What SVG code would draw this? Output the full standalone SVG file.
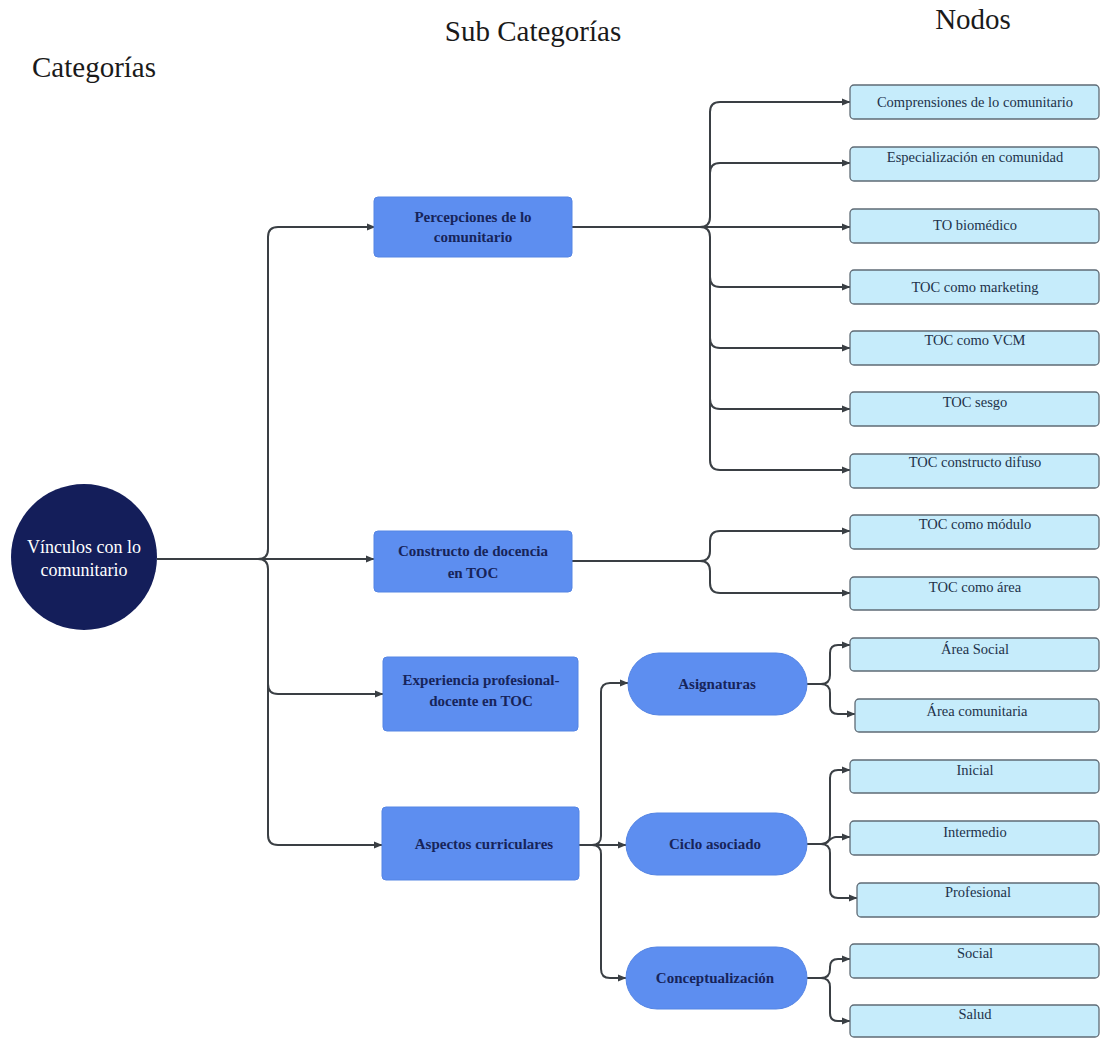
<svg xmlns="http://www.w3.org/2000/svg" width="1101" height="1038" viewBox="0 0 1101 1038">
  <defs>
    <marker id="arr" markerWidth="9" markerHeight="8" refX="8" refY="4" orient="auto" markerUnits="userSpaceOnUse">
      <path d="M0,0.5 L8.5,4 L0,7.5 z" fill="#3a3f44"/>
    </marker>
    <style>
      text { font-family: "Liberation Serif", "Times New Roman", "DejaVu Serif", serif; text-anchor: middle; }
      .hdr { font-size: 29px; fill: #1a1a1a; }
      .root { fill: #141e5a; }
      .root-t { font-size: 18px; fill: #ffffff; }
      .sub { fill: #5d8ef0; stroke: #5585e4; stroke-width: 1; }
      .sub-t { font-size: 15px; font-weight: bold; fill: #17245a; }
      .leaf { fill: #c6ecfb; stroke: #5f6b75; stroke-width: 1.3; }
      .leaf-t { font-size: 14.5px; fill: #22324a; }
      .conn path { fill: none; stroke: #3a3f44; stroke-width: 2; }
      .conn path.a { marker-end: url(#arr); }
    </style>
  </defs>

  <rect width="1101" height="1038" fill="#ffffff"/>

  <!-- column headings -->
  <text class="hdr" x="94" y="77">Categorías</text>
  <text class="hdr" x="533" y="41">Sub Categorías</text>
  <text class="hdr" x="973" y="29">Nodos</text>

  <!-- connectors -->
  <g id="connectors" class="conn">
    <!-- root to sub categories -->
    <path class="a" d="M157,559 H374"/>
    <path class="a" d="M258,559 Q268,559 268,549 V237 Q268,227 278,227 H375"/>
    <path class="a" d="M258,559 Q268,559 268,569 V835 Q268,845 278,845 H382"/>
    <path class="a" d="M268,684 Q268,694 278,694 H383"/>

    <!-- Percepciones de lo comunitario -->
    <path class="a" d="M572,227 H850"/>
    <path class="a" d="M700,227 Q710,227 710,217 V112 Q710,102 720,102 H850"/>
    <path class="a" d="M710,173 Q710,163 720,163 H850"/>
    <path class="a" d="M700,227 Q710,227 710,237 V460 Q710,470 720,470 H850"/>
    <path class="a" d="M710,277 Q710,287 720,287 H850"/>
    <path class="a" d="M710,338 Q710,348 720,348 H850"/>
    <path class="a" d="M710,399 Q710,409 720,409 H850"/>

    <!-- Constructo de docencia en TOC -->
    <path class="a" d="M572,561 H700 Q710,561 710,551 V541 Q710,531 720,531 H850"/>
    <path class="a" d="M700,561 Q710,561 710,571 V583 Q710,593 720,593 H850"/>

    <!-- Aspectos curriculares -->
    <path class="a" d="M579,845 H626"/>
    <path class="a" d="M592,845 Q601,845 601,836 V692 Q601,683 610,683 H628"/>
    <path class="a" d="M592,845 Q601,845 601,854 V969 Q601,978 610,978 H626"/>

    <!-- Asignaturas -->
    <path class="a" d="M807,684 H821 Q830,684 830,675 V653 Q830,645 838,645 H850"/>
    <path class="a" d="M821,684 Q830,684 830,693 V706 Q830,714 838,714 H855"/>

    <!-- Ciclo asociado -->
    <path class="a" d="M807,844 H821 Q830,844 830,835 V778 Q830,770 838,770 H850"/>
    <path class="a" d="M822,844 C828,844 830,837 836,837 H850"/>
    <path class="a" d="M821,844 Q830,844 830,853 V890 Q830,898 838,898 H857"/>

    <!-- Conceptualización -->
    <path class="a" d="M807,978 H821 Q830,978 830,969 V967 Q830,959 838,959 H850"/>
    <path class="a" d="M821,978 Q830,978 830,987 V1013 Q830,1021 838,1021 H850"/>
  </g>

  <!-- category -->
  <g id="vinculos">
    <circle class="root" cx="84" cy="557" r="73"/>
    <text class="root-t" x="84" y="553">Vínculos con lo</text>
    <text class="root-t" x="84" y="576">comunitario</text>
  </g>

  <!-- sub categories -->
  <g id="percepciones">
    <rect class="sub" x="374" y="197" width="198" height="60" rx="4"/>
    <text class="sub-t" x="473" y="222">Percepciones de lo</text>
    <text class="sub-t" x="473" y="242">comunitario</text>
  </g>
  <g id="constructo">
    <rect class="sub" x="374" y="531" width="198" height="61" rx="4"/>
    <text class="sub-t" x="473" y="556">Constructo de docencia</text>
    <text class="sub-t" x="473" y="578">en TOC</text>
  </g>
  <g id="experiencia">
    <rect class="sub" x="383" y="657" width="195" height="74" rx="4"/>
    <text class="sub-t" x="481" y="685">Experiencia profesional-</text>
    <text class="sub-t" x="481" y="706">docente en TOC</text>
  </g>
  <g id="aspectos">
    <rect class="sub" x="382" y="807" width="197" height="73" rx="4"/>
    <text class="sub-t" x="484" y="849">Aspectos curriculares</text>
  </g>
  <g id="asignaturas">
    <rect class="sub" x="628" y="653" width="179" height="62" rx="31"/>
    <text class="sub-t" x="717" y="689">Asignaturas</text>
  </g>
  <g id="ciclo">
    <rect class="sub" x="626" y="813" width="181" height="62" rx="31"/>
    <text class="sub-t" x="715" y="849">Ciclo asociado</text>
  </g>
  <g id="conceptualizacion">
    <rect class="sub" x="626" y="947" width="181" height="62" rx="31"/>
    <text class="sub-t" x="715" y="983">Conceptualización</text>
  </g>

  <!-- nodes -->
  <g id="n-comprensiones">
    <rect class="leaf" x="850" y="85" width="249" height="34" rx="4"/>
    <text class="leaf-t" x="975" y="107">Comprensiones de lo comunitario</text>
  </g>
  <g id="n-especializacion">
    <rect class="leaf" x="850" y="147" width="249" height="34" rx="4"/>
    <text class="leaf-t" x="975" y="162">Especialización en comunidad</text>
  </g>
  <g id="n-biomedico">
    <rect class="leaf" x="850" y="209" width="249" height="34" rx="4"/>
    <text class="leaf-t" x="975" y="230">TO biomédico</text>
  </g>
  <g id="n-marketing">
    <rect class="leaf" x="850" y="270" width="249" height="34" rx="4"/>
    <text class="leaf-t" x="975" y="292">TOC como marketing</text>
  </g>
  <g id="n-vcm">
    <rect class="leaf" x="850" y="331" width="249" height="34" rx="4"/>
    <text class="leaf-t" x="975" y="345">TOC como VCM</text>
  </g>
  <g id="n-sesgo">
    <rect class="leaf" x="850" y="392" width="249" height="34" rx="4"/>
    <text class="leaf-t" x="975" y="407">TOC sesgo</text>
  </g>
  <g id="n-difuso">
    <rect class="leaf" x="850" y="454" width="249" height="34" rx="4"/>
    <text class="leaf-t" x="975" y="467">TOC constructo difuso</text>
  </g>
  <g id="n-modulo">
    <rect class="leaf" x="850" y="515" width="249" height="34" rx="4"/>
    <text class="leaf-t" x="975" y="529">TOC como módulo</text>
  </g>
  <g id="n-area">
    <rect class="leaf" x="850" y="577" width="249" height="33" rx="4"/>
    <text class="leaf-t" x="975" y="592">TOC como área</text>
  </g>
  <g id="n-area-social">
    <rect class="leaf" x="850" y="638" width="249" height="33" rx="4"/>
    <text class="leaf-t" x="975" y="654">Área Social</text>
  </g>
  <g id="n-area-comunitaria">
    <rect class="leaf" x="855" y="699" width="244" height="33" rx="4"/>
    <text class="leaf-t" x="977" y="716">Área comunitaria</text>
  </g>
  <g id="n-inicial">
    <rect class="leaf" x="850" y="760" width="249" height="33" rx="4"/>
    <text class="leaf-t" x="975" y="775">Inicial</text>
  </g>
  <g id="n-intermedio">
    <rect class="leaf" x="850" y="821" width="249" height="34" rx="4"/>
    <text class="leaf-t" x="975" y="837">Intermedio</text>
  </g>
  <g id="n-profesional">
    <rect class="leaf" x="857" y="883" width="242" height="34" rx="4"/>
    <text class="leaf-t" x="978" y="897">Profesional</text>
  </g>
  <g id="n-social">
    <rect class="leaf" x="850" y="944" width="249" height="34" rx="4"/>
    <text class="leaf-t" x="975" y="958">Social</text>
  </g>
  <g id="n-salud">
    <rect class="leaf" x="850" y="1005" width="249" height="32" rx="4"/>
    <text class="leaf-t" x="975" y="1019">Salud</text>
  </g>
</svg>
